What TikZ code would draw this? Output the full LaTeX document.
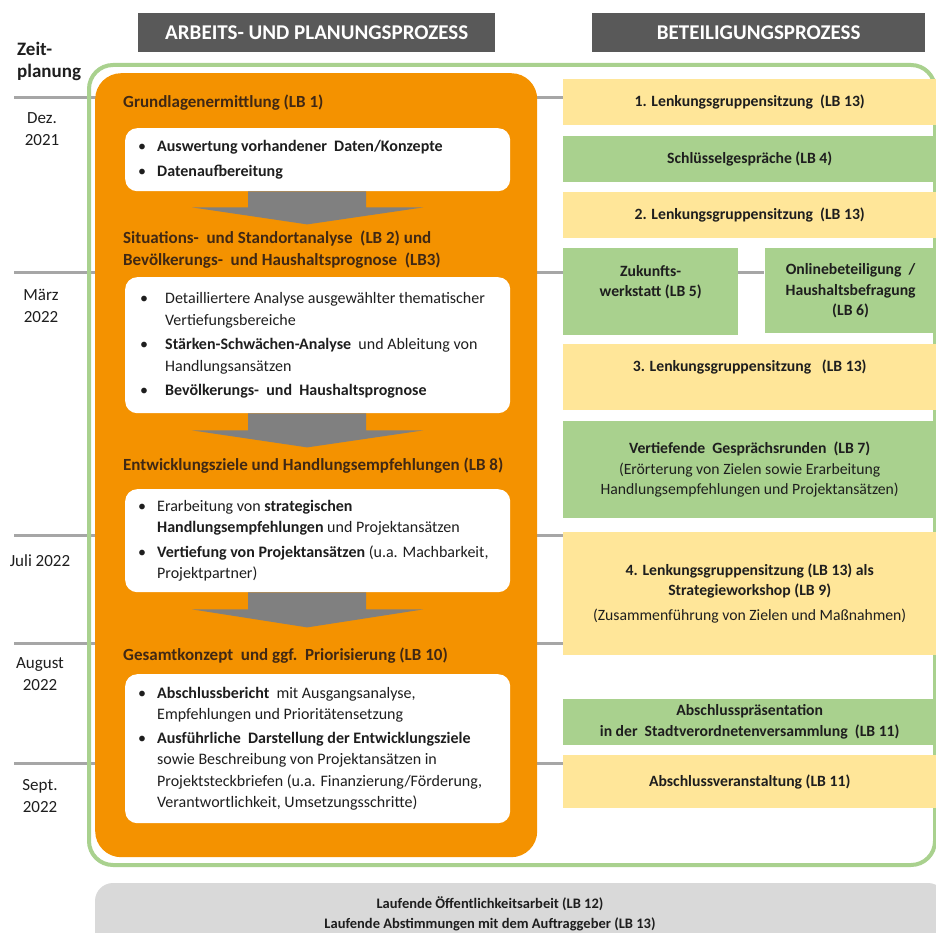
\documentclass[tikz,border=0pt]{standalone}
\usepackage{fontspec}
\setmainfont{Carlito}
\usetikzlibrary{positioning}
\usetikzlibrary{calc}
\usetikzlibrary{backgrounds}
\definecolor{orng}{RGB}{244,146,0}
\definecolor{grn}{RGB}{169,209,142}
\definecolor{ylw}{RGB}{255,230,153}
\definecolor{hdgray}{RGB}{89,89,89}
\definecolor{argray}{RGB}{128,128,128}
\definecolor{tlgray}{RGB}{166,166,166}
\definecolor{lgray}{RGB}{217,217,217}
\definecolor{brn}{RGB}{64,40,20}
\definecolor{txt}{RGB}{30,30,30}
\newcommand{\bl}{\textbullet}
\tikzset{hdr/.style={fill=hdgray, text=white, anchor=north west, inner sep=0pt, minimum height=39pt, font=\bfseries\fontsize{21}{25}\selectfont}}
\tikzset{rtext/.style={align=center, inner sep=0pt, text=txt, font=\bfseries\fontsize{15.7}{20.5}\selectfont}}
\tikzset{rbox/.style={rtext, anchor=north west, minimum width=373pt}}
\tikzset{ybox/.style={rbox, fill=ylw}}
\tikzset{gbox/.style={rbox, fill=grn}}
\tikzset{wbox/.style={fill=white, rounded corners=12pt, anchor=north west, inner sep=0pt, minimum width=385pt, text=txt, font=\fontsize{16}{21.5}\selectfont}}
\tikzset{head/.style={anchor=west, align=left, inner sep=0pt, text=brn, font=\bfseries\fontsize{17}{22}\selectfont}}
\tikzset{month/.style={align=center, inner sep=0pt, text=txt, font=\fontsize{17}{22}\selectfont}}
\tikzset{tl/.style={draw=tlgray, line width=3pt}}
\tikzset{garrow/.style={fill=argray}}
\tikzset{obox/.style={fill=orng, rounded corners=26pt, anchor=north west, inner sep=0pt}}
\tikzset{frm/.style={draw=grn, line width=4pt, rounded corners=24pt, anchor=north west, inner sep=0pt}}

\begin{document}
\begin{tikzpicture}[x=1pt, y=-1pt]
        \useasboundingbox (0,0) rectangle (936,933);
        \clip (0,0) rectangle (936,933);

        \node[hdr, minimum width=357pt] (h1) at (138,13) {ARBEITS- UND PLANUNGSPROZESS};
        \node[hdr, minimum width=333pt] (h2) at (592,13) {BETEILIGUNGSPROZESS};

        \node[anchor=west, align=left, inner sep=0pt, text=txt, font=\bfseries\fontsize{19}{22}\selectfont] (zp) at (17,61) {Zeit-\\planung};
        \node[month] (dez) at (42,129) {Dez.\\2021};
        \node[month] (mar) at (41,306) {März\\2022};
        \node[month] (jul) at (40,561) {Juli 2022};
        \node[month] (aug) at (40,674) {August\\2022};
        \node[month] (sep) at (40,796) {Sept.\\2022};

        \coordinate (t1) at (14,98);
        \coordinate (t2) at (14,272);
        \coordinate (t3) at (14,535);
        \coordinate (t4) at (14,643);
        \coordinate (t5) at (14,763);

        \node[head] (hd1) at (123,103) {Grundlagenermittlung (LB 1)};
        \node[wbox, minimum height=63pt] (w1) at (125,128) {\begin{tabular}{@{}p{19pt}@{}p{340pt}@{}}
          \bl & \textbf{Auswertung vorhandener\ \ Daten/Konzepte}\\[3pt]
          \bl & \textbf{Datenaufbereitung}
        \end{tabular}};

        \node[head] (hd2) at (123,250) {Situations-\ \ und Standortanalyse\ \ (LB 2) und\\Bevölkerungs-\ \ und Haushaltsprognose\ \ (LB3)};
        \node[wbox, minimum height=136pt] (w2) at (125,277) {\begin{tabular}{@{\hspace{2pt}}p{25pt}@{}p{332pt}@{}}
          \bl & Detailliertere Analyse ausgewählter thematischer\\
              & Vertiefungsbereiche\\[3pt]
          \bl & \textbf{Stärken-Schwächen-Analyse}\ \ und Ableitung von\\
              & Handlungsansätzen\\[3pt]
          \bl & \textbf{Bevölkerungs-\ \ und\ \ Haushaltsprognose}
        \end{tabular}};

        \node[head] (hd3) at (123,466) {Entwicklungsziele und Handlungsempfehlungen (LB 8)};
        \node[wbox, minimum height=103pt] (w3) at (125,489) {\begin{tabular}{@{}p{19pt}@{}p{340pt}@{}}
          \bl & Erarbeitung von \textbf{strategischen}\\
              & \textbf{Handlungsempfehlungen} und Projektansätzen\\[3pt]
          \bl & \textbf{Vertiefung von Projektansätzen} (u.a. Machbarkeit,\\
              & Projektpartner)
        \end{tabular}};

        \node[head] (hd4) at (123,656) {Gesamtkonzept\ \ und ggf.\ \ Priorisierung (LB 10)};
        \node[wbox, minimum height=149pt] (w4) at (125,674) {\begin{tabular}{@{}p{19pt}@{}p{340pt}@{}}
          \bl & \textbf{Abschlussbericht}\ \ mit Ausgangsanalyse,\\
              & Empfehlungen und Prioritätensetzung\\[2pt]
          \bl & \textbf{Ausführliche\ \ Darstellung der Entwicklungsziele}\\
              & sowie Beschreibung von Projektansätzen in\\
              & Projektsteckbriefen (u.a. Finanzierung/Förderung,\\
              & Verantwortlichkeit, Umsetzungsschritte)
        \end{tabular}};

        \fill[garrow] ($(w1.south)+(-69.5,0)$) -- ++(118,0) -- ++(0,16) -- ++(57,0)
         -- ++(-116,17) -- ++(-115,-17) -- ++(56,0) -- cycle;
        \fill[garrow] ($(w2.south)+(-69.5,0)$) -- ++(118,0) -- ++(0,17) -- ++(57,0)
         -- ++(-116,17) -- ++(-115,-17) -- ++(56,0) -- cycle;
        \fill[garrow] ($(w3.south)+(-69.5,0)$) -- ++(118,0) -- ++(0,17) -- ++(57,0)
         -- ++(-116,18) -- ++(-115,-18) -- ++(56,0) -- cycle;

        \node[ybox, minimum height=46pt] (y1) at (563,79) {1. Lenkungsgruppensitzung\ \ (LB 13)};
        \node[gbox, minimum height=46pt, below=10pt of y1] (g1) {Schlüsselgespräche (LB 4)};
        \node[ybox, minimum height=46pt, below=10pt of g1] (y2) {2. Lenkungsgruppensitzung\ \ (LB 13)};
        \node[gbox, minimum width=175pt, minimum height=87pt, below=10pt of y2.south west, anchor=north west,
          label={[rtext, yshift=9.5pt]center:{Zukunfts-\\werkstatt (LB 5)}}] (zk) {};
        \node[gbox, minimum width=172pt, minimum height=85pt, right=26pt of zk.north east, anchor=north west] (on)
          {Onlinebeteiligung\ \ /\\Haushaltsbefragung\\(LB 6)};
        \node[ybox, minimum height=66pt, below=8pt of zk.south west, anchor=north west,
          label={[rtext, yshift=10pt]center:{3. Lenkungsgruppensitzung\ \ \ (LB 13)}}] (y3) {};
        \node[gbox, minimum height=97pt, below=11pt of y3] (g2) {Vertiefende\ \ Gesprächsrunden\ \ (LB 7)\\
          {\mdseries (Erörterung von Zielen sowie Erarbeitung}\\{\mdseries Handlungsempfehlungen und Projektansätzen)}};
        \node[ybox, minimum height=123pt, below=13pt of g2] (y4) {4. Lenkungsgruppensitzung (LB 13) als\\
          Strategieworkshop (LB 9)\\[4pt]{\mdseries (Zusammenführung von Zielen und Maßnahmen)}};
        \node[gbox, minimum height=46pt, below=44pt of y4] (g3) {Abschlusspräsentation\\
          in der\ \ Stadtverordnetenversammlung\ \ (LB 11)};
        \node[ybox, minimum height=53pt, below=10pt of g3] (y5) {Abschlussveranstaltung (LB 11)};

        \fill[lgray, rounded corners=18pt] (95,883) rectangle (946,960);
        \node[align=center, inner sep=0pt, text=txt, font=\bfseries\fontsize{14.5}{20}\selectfont] (lb) at (490,914)
          {Laufende Öffentlichkeitsarbeit (LB 12)\\Laufende Abstimmungen mit dem Auftraggeber (LB 13)};

        \begin{scope}[on background layer]
        \draw[tl] (t1) -- (t1 -| y1.west);
        \draw[tl] (t2) -- (t2 -| on.west);
        \draw[tl] (t3) -- (t3 -| y4.west);
        \draw[tl] (t4) -- (t4 -| y4.west);
        \draw[tl] (t5) -- (t5 -| y5.west);
        \node[frm, minimum width=846pt, minimum height=800pt] (fr) at (87,63) {};
        \node[obox, minimum width=442pt, minimum height=784pt] (ap) at (95,73) {};
        \end{scope}
\end{tikzpicture}
\end{document}
